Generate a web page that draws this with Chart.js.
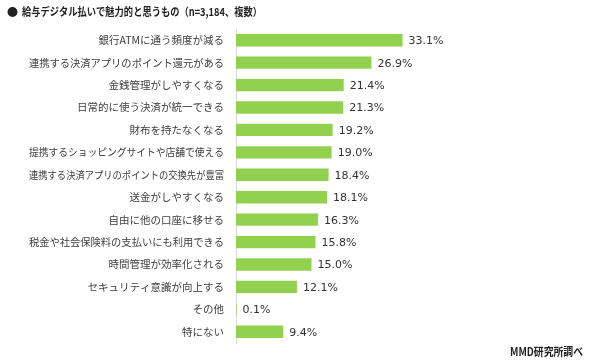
<!DOCTYPE html>
<html>
<head>
<meta charset="utf-8">
<script src="https://cdn.jsdelivr.net/npm/chart.js@4"></script>
<style>
  body { margin: 0; background: #fff; }
  #wrap { width: 590px; height: 363px; position: relative; }
</style>
</head>
<body>
<div id="wrap"><canvas id="js--chart"></canvas></div>
<script>
const labels = ['銀行ATMに通う頻度が減る', '連携する決済アプリのポイント還元がある', '金銭管理がしやすくなる',
  '日常的に使う決済が統一できる', '財布を持たなくなる', '提携するショッピングサイトや店舗で使える',
  '連携する決済アプリのポイントの交換先が豊富', '送金がしやすくなる', '自由に他の口座に移せる',
  '税金や社会保険料の支払いにも利用できる', '時間管理が効率化される', 'セキュリティ意識が向上する',
  'その他', '特にない'];
const values = [33.1, 26.9, 21.4, 21.3, 19.2, 19.0, 18.4, 18.1, 16.3, 15.8, 15.0, 12.1, 0.1, 9.4];

const titleText = '給与デジタル払いで魅力的と思うもの（n=3,184、複数）';
const sourceText = 'MMD研究所調べ';

// title, source, category names and value labels
const textPlugin = {
  id: 'texts',
  afterDraw(chart) {
    const ctx = chart.ctx;
    ctx.save();
    ctx.fillStyle = '#222';
    ctx.textBaseline = 'middle';
    ctx.font = 'bold 11px "Noto Sans CJK JP"';
    ctx.fillText('●', 7, 12);
    ctx.fillText(titleText, 22, 12, 240);
    ctx.textAlign = 'right';
    ctx.fillText(sourceText, 583, 352, 73);

    const meta = chart.getDatasetMeta(0);
    const axisX = chart.scales.y.right;
    // long names are squeezed a bit, like the narrow font of the original
    ctx.font = '10.5px "Noto Sans CJK JP"';
    ctx.fillStyle = '#404040';
    meta.data.forEach(function (bar, i) {
      ctx.fillText(labels[i], axisX - 12, bar.y, 195);
    });

    ctx.textAlign = 'left';
    ctx.font = '11px "DejaVu Sans"';
    ctx.fillStyle = '#333';
    meta.data.forEach(function (bar, i) {
      ctx.fillText(values[i].toFixed(1) + '%', bar.x + 6, bar.y + 1);
    });
    ctx.restore();
  }
};

new Chart(document.getElementById('js--chart'), {
  type: 'bar',
  data: {
    labels: labels,
    datasets: [{
      data: values,
      backgroundColor: '#92D050',
      barPercentage: 0.55,
      categoryPercentage: 1
    }]
  },
  options: {
    indexAxis: 'y',
    responsive: true,
    maintainAspectRatio: false,
    animation: false,
    layout: { padding: { top: 29, bottom: 20, left: 0, right: 52 } },
    plugins: {
      legend: { display: false },
      tooltip: { enabled: false }
    },
    scales: {
      x: { display: false, min: 0, max: 60 },
      y: {
        afterFit: function (s) { s.width = 236; },
        grid: { display: false, drawTicks: false },
        border: { display: true, color: '#d9d9d9', width: 1 },
        ticks: { display: false }
      }
    }
  },
  plugins: [textPlugin]
});
</script>
</body>
</html>
